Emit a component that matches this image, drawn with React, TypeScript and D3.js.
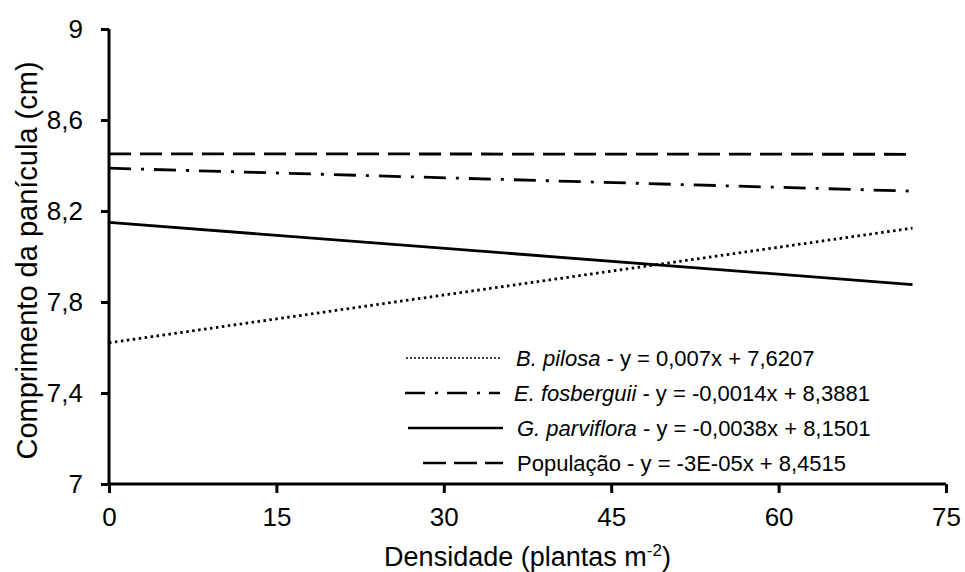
import { useEffect, useRef } from 'react';
import * as d3 from 'd3';

// regression lines, evaluated at the ends of the sampled density range
const xEnds = [0, 72];
const pilosaValues = [7.6207, 8.1247];
const fosberguiiValues = [8.3881, 8.2873];
const parvifloraValues = [8.1501, 7.8765];
const populacaoValues = [8.4515, 8.4493];

const xTicks = [0, 15, 30, 45, 60, 75];
const yTicks = [7, 7.4, 7.8, 8.2, 8.6, 9];

const seriesNames = ['B. pilosa', 'E. fosberguii', 'G. parviflora', 'População'];
const seriesEquations = [
    ' - y = 0,007x + 7,6207',
    ' - y = -0,0014x + 8,3881',
    ' - y = -0,0038x + 8,1501',
    ' - y = -3E-05x + 8,4515',
];
const seriesItalic = [true, true, true, false];

const W = 965;
const H = 572;
const FONT = "'Liberation Sans', Arial, sans-serif";

export default function App() {
    const svgRef = useRef<SVGSVGElement | null>(null);

    useEffect(() => {
        const svg = d3.select(svgRef.current);
        svg.selectAll('*').remove();

        const x = d3.scaleLinear().domain([0, 75]).range([109, 946]);
        const y = d3.scaleLinear().domain([7, 9]).range([484, 29]);

        const styles = [
            { dash: '2.5,3.5', legendDash: '2,2' },
            { dash: '22,10,3,10', legendDash: '20,10,3,9' },
            { dash: null, legendDash: null },
            { dash: '22,9', legendDash: '23,8' },
        ];
        const allValues = [pilosaValues, fosberguiiValues, parvifloraValues, populacaoValues];

        const line = d3.line<number>()
            .x((_, i) => x(xEnds[i]))
            .y(d => y(d));

        // axes
        const xAxis = svg.append('g')
            .attr('transform', `translate(0,${y(7)})`)
            .call(d3.axisBottom(x).tickValues(xTicks).tickSize(9).tickPadding(15)
                .tickFormat(d => String(d)));
        const yAxis = svg.append('g')
            .attr('transform', `translate(${x(0)},0)`)
            .call(d3.axisLeft(y).tickValues(yTicks).tickSize(8).tickPadding(18)
                .tickFormat(d => String(d).replace('.', ',')));

        [xAxis, yAxis].forEach(a => {
            a.select('.domain').remove();
            a.selectAll('.tick line').attr('stroke', '#000').attr('stroke-width', 3);
            a.selectAll('.tick text')
                .attr('fill', '#000')
                .style('font-family', FONT)
                .style('font-size', '26px');
        });
        svg.append('line')
            .attr('x1', x(0)).attr('x2', x(0))
            .attr('y1', y(9)).attr('y2', y(7))
            .attr('stroke', '#000').attr('stroke-width', 3);
        svg.append('line')
            .attr('x1', x(0)).attr('x2', x(75))
            .attr('y1', y(7)).attr('y2', y(7))
            .attr('stroke', '#000').attr('stroke-width', 3);

        // series lines
        allValues.forEach((vals, i) => {
            svg.append('path')
                .datum(vals)
                .attr('d', line)
                .attr('fill', 'none')
                .attr('stroke', '#000')
                .attr('stroke-width', 2.8)
                .attr('stroke-dasharray', styles[i].dash);
        });

        // axis titles
        const xt = svg.append('text')
            .attr('x', (x(0) + x(75)) / 2)
            .attr('y', 566)
            .attr('text-anchor', 'middle')
            .style('font-family', FONT)
            .style('font-size', '27px');
        xt.append('tspan').text('Densidade (plantas m');
        xt.append('tspan').attr('dy', -10).style('font-size', '17px').text('-2');
        xt.append('tspan').attr('dy', 10).text(')');

        svg.append('text')
            .attr('transform', `translate(37,${(y(7) + y(9)) / 2 + 4}) rotate(-90)`)
            .attr('text-anchor', 'middle')
            .style('font-family', FONT)
            .style('font-size', '29px')
            .text('Comprimento da panícula (cm)');

        // legend
        const legendY = [358, 393, 428, 463];
        const legendLine = [[406, 502], [405, 500], [408, 503], [423, 503]];
        seriesNames.forEach((name, i) => {
            svg.append('line')
                .attr('x1', legendLine[i][0]).attr('x2', legendLine[i][1])
                .attr('y1', legendY[i]).attr('y2', legendY[i])
                .attr('stroke', '#000')
                .attr('stroke-width', i === 0 ? 1.6 : 2.4)
                .attr('stroke-dasharray', styles[i].legendDash);
            const t = svg.append('text')
                .attr('x', legendLine[i][1] + 14)
                .attr('y', legendY[i])
                .attr('dy', '0.35em')
                .style('font-family', FONT)
                .style('font-size', '22px');
            t.append('tspan')
                .style('font-style', seriesItalic[i] ? 'italic' : 'normal')
                .text(name);
            t.append('tspan').text(seriesEquations[i]);
        });
    }, []);

    return (
        <svg ref={svgRef} width={W} height={H} style={{ display: 'block', position: 'absolute', left: 0, top: 0, background: '#fff' }} />
    );
}
